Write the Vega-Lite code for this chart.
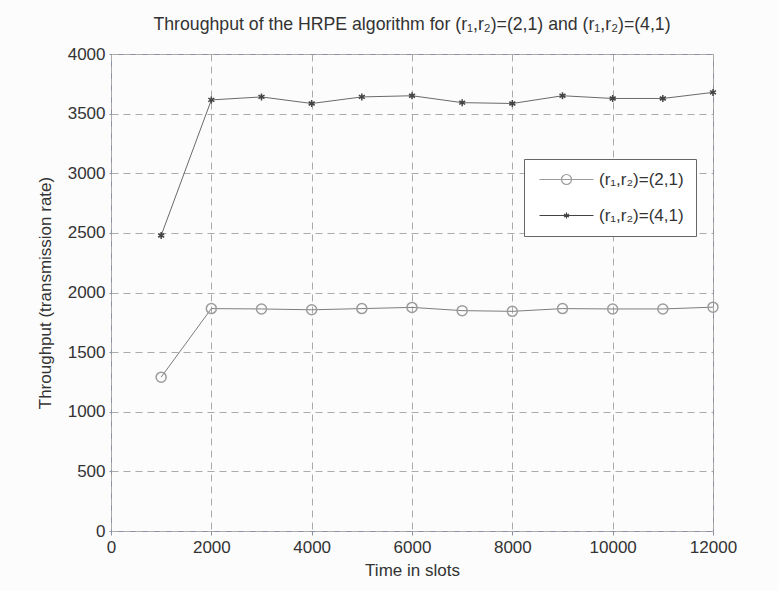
{
  "$schema": "https://vega.github.io/schema/vega-lite/v6.json",
  "width": 602,
  "height": 477,
  "autosize": "none",
  "padding": {"left": 111, "top": 54, "right": 65, "bottom": 60},
  "background": "#fcfcfc",
  "title": {
    "text": "Throughput of the HRPE algorithm for (r₁,r₂)=(2,1) and (r₁,r₂)=(4,1)",
    "font": "Liberation Sans",
    "fontSize": 17.7,
    "fontWeight": "normal",
    "color": "#333333",
    "anchor": "middle",
    "offset": 11
  },
  "data": {
    "values": [
      {"series": "(r₁,r₂)=(2,1)", "t": 1000, "v": 1290},
      {"series": "(r₁,r₂)=(2,1)", "t": 2000, "v": 1865},
      {"series": "(r₁,r₂)=(2,1)", "t": 3000, "v": 1862},
      {"series": "(r₁,r₂)=(2,1)", "t": 4000, "v": 1855},
      {"series": "(r₁,r₂)=(2,1)", "t": 5000, "v": 1865},
      {"series": "(r₁,r₂)=(2,1)", "t": 6000, "v": 1875},
      {"series": "(r₁,r₂)=(2,1)", "t": 7000, "v": 1848},
      {"series": "(r₁,r₂)=(2,1)", "t": 8000, "v": 1842},
      {"series": "(r₁,r₂)=(2,1)", "t": 9000, "v": 1865},
      {"series": "(r₁,r₂)=(2,1)", "t": 10000, "v": 1862},
      {"series": "(r₁,r₂)=(2,1)", "t": 11000, "v": 1862},
      {"series": "(r₁,r₂)=(2,1)", "t": 12000, "v": 1877},
      {"series": "(r₁,r₂)=(4,1)", "t": 1000, "v": 2478},
      {"series": "(r₁,r₂)=(4,1)", "t": 2000, "v": 3615},
      {"series": "(r₁,r₂)=(4,1)", "t": 3000, "v": 3640},
      {"series": "(r₁,r₂)=(4,1)", "t": 4000, "v": 3585},
      {"series": "(r₁,r₂)=(4,1)", "t": 5000, "v": 3640},
      {"series": "(r₁,r₂)=(4,1)", "t": 6000, "v": 3650},
      {"series": "(r₁,r₂)=(4,1)", "t": 7000, "v": 3592},
      {"series": "(r₁,r₂)=(4,1)", "t": 8000, "v": 3585},
      {"series": "(r₁,r₂)=(4,1)", "t": 9000, "v": 3650},
      {"series": "(r₁,r₂)=(4,1)", "t": 10000, "v": 3627},
      {"series": "(r₁,r₂)=(4,1)", "t": 11000, "v": 3627},
      {"series": "(r₁,r₂)=(4,1)", "t": 12000, "v": 3678}
    ]
  },
  "encoding": {
    "x": {
      "field": "t",
      "type": "quantitative",
      "scale": {"domain": [0, 12000], "nice": false, "zero": false},
      "axis": {
        "title": "Time in slots",
        "values": [0, 2000, 4000, 6000, 8000, 10000, 12000],
        "format": "d",
        "grid": true,
        "gridDash": [7, 5],
        "gridColor": "#ababab",
        "gridOpacity": 1,
        "domain": false,
        "ticks": true,
        "tickSize": 4,
        "tickColor": "#8a90a0",
        "labelPadding": 4,
        "titlePadding": 7,
        "labelFlush": false
      }
    },
    "y": {
      "field": "v",
      "type": "quantitative",
      "scale": {"domain": [0, 4000], "nice": false},
      "axis": {
        "title": "Throughput (transmission rate)",
        "values": [0, 500, 1000, 1500, 2000, 2500, 3000, 3500, 4000],
        "format": "d",
        "grid": true,
        "gridDash": [7, 5],
        "gridColor": "#ababab",
        "gridOpacity": 1,
        "domain": false,
        "ticks": true,
        "tickSize": 2,
        "tickColor": "#8a90a0",
        "labelPadding": 4,
        "titlePadding": 13,
        "labelFlush": false
      }
    }
  },
  "layer": [
    {
      "mark": {"type": "line", "strokeWidth": 1},
      "encoding": {
        "color": {
          "field": "series",
          "type": "nominal",
          "scale": {"range": ["#7d7d7d", "#6a6a6a"]},
          "legend": null
        }
      }
    },
    {
      "transform": [{"filter": "indexof(datum.series, '(2,1)') >= 0"}],
      "mark": {"type": "point", "shape": "circle", "filled": false, "strokeWidth": 1.5, "opacity": 1, "size": 100},
      "encoding": {
        "stroke": {
          "field": "series",
          "type": "nominal",
          "scale": {"domain": ["(r₁,r₂)=(2,1)", "(r₁,r₂)=(4,1)"], "range": ["#9c9c9c", "#444444"]}
        }
      }
    },
    {
      "transform": [{"filter": "indexof(datum.series, '(4,1)') >= 0"}],
      "mark": {"type": "point", "shape": "M0,-0.7L0,0.7M-0.6,-0.35L0.6,0.35M-0.6,0.35L0.6,-0.35", "filled": false, "strokeWidth": 1.5, "opacity": 1, "size": 100},
      "encoding": {
        "stroke": {
          "field": "series",
          "type": "nominal"
        }
      }
    },
    {
      "mark": {"type": "point", "filled": false, "strokeWidth": 1.2, "opacity": 0, "size": 100},
      "encoding": {
        "stroke": {
          "field": "series",
          "type": "nominal"
        },
        "shape": {
          "field": "series",
          "type": "nominal",
          "scale": {
            "domain": ["(r₁,r₂)=(2,1)", "(r₁,r₂)=(4,1)"],
            "range": [
              "M-5.4,0L5.4,0M-1,0A1,1 0 1,0 1,0A1,1 0 1,0 -1,0",
              "M-5.4,0L5.4,0M0,-0.6L0,0.6M-0.5,-0.3L0.5,0.3M-0.5,0.3L0.5,-0.3"
            ]
          },
          "legend": {
            "title": null,
            "orient": "none",
            "legendX": 413,
            "legendY": 105,
            "padding": 12,
            "fillColor": "#ffffff",
            "strokeColor": "#666666",
            "symbolSize": 100,
            "symbolOffset": 22,
            "labelOffset": 24,
            "rowPadding": 18,
            "symbolOpacity": 1,
            "labelFont": "Liberation Sans",
            "labelFontSize": 17,
            "labelColor": "#333333",
            "symbolStrokeWidth": 1.2
          }
        }
      }
    }
  ],
  "config": {
    "view": {"stroke": "#8a90a0", "strokeWidth": 1},
    "legend": {
      "orient": "none",
      "legendX": 413,
      "legendY": 105,
      "padding": 12,
      "fillColor": "#ffffff",
      "strokeColor": "#666666",
      "symbolSize": 100,
      "symbolOffset": 22,
      "labelOffset": 24,
      "rowPadding": 18,
      "symbolOpacity": 1,
      "labelFont": "Liberation Sans",
      "labelFontSize": 17,
      "labelColor": "#333333",
      "symbolStrokeWidth": 1.2
    },
    "axis": {
      "labelFont": "Liberation Sans",
      "labelFontSize": 17,
      "labelColor": "#333333",
      "titleFont": "Liberation Sans",
      "titleFontSize": 17,
      "titleFontWeight": "normal",
      "titleColor": "#333333"
    }
  }
}
